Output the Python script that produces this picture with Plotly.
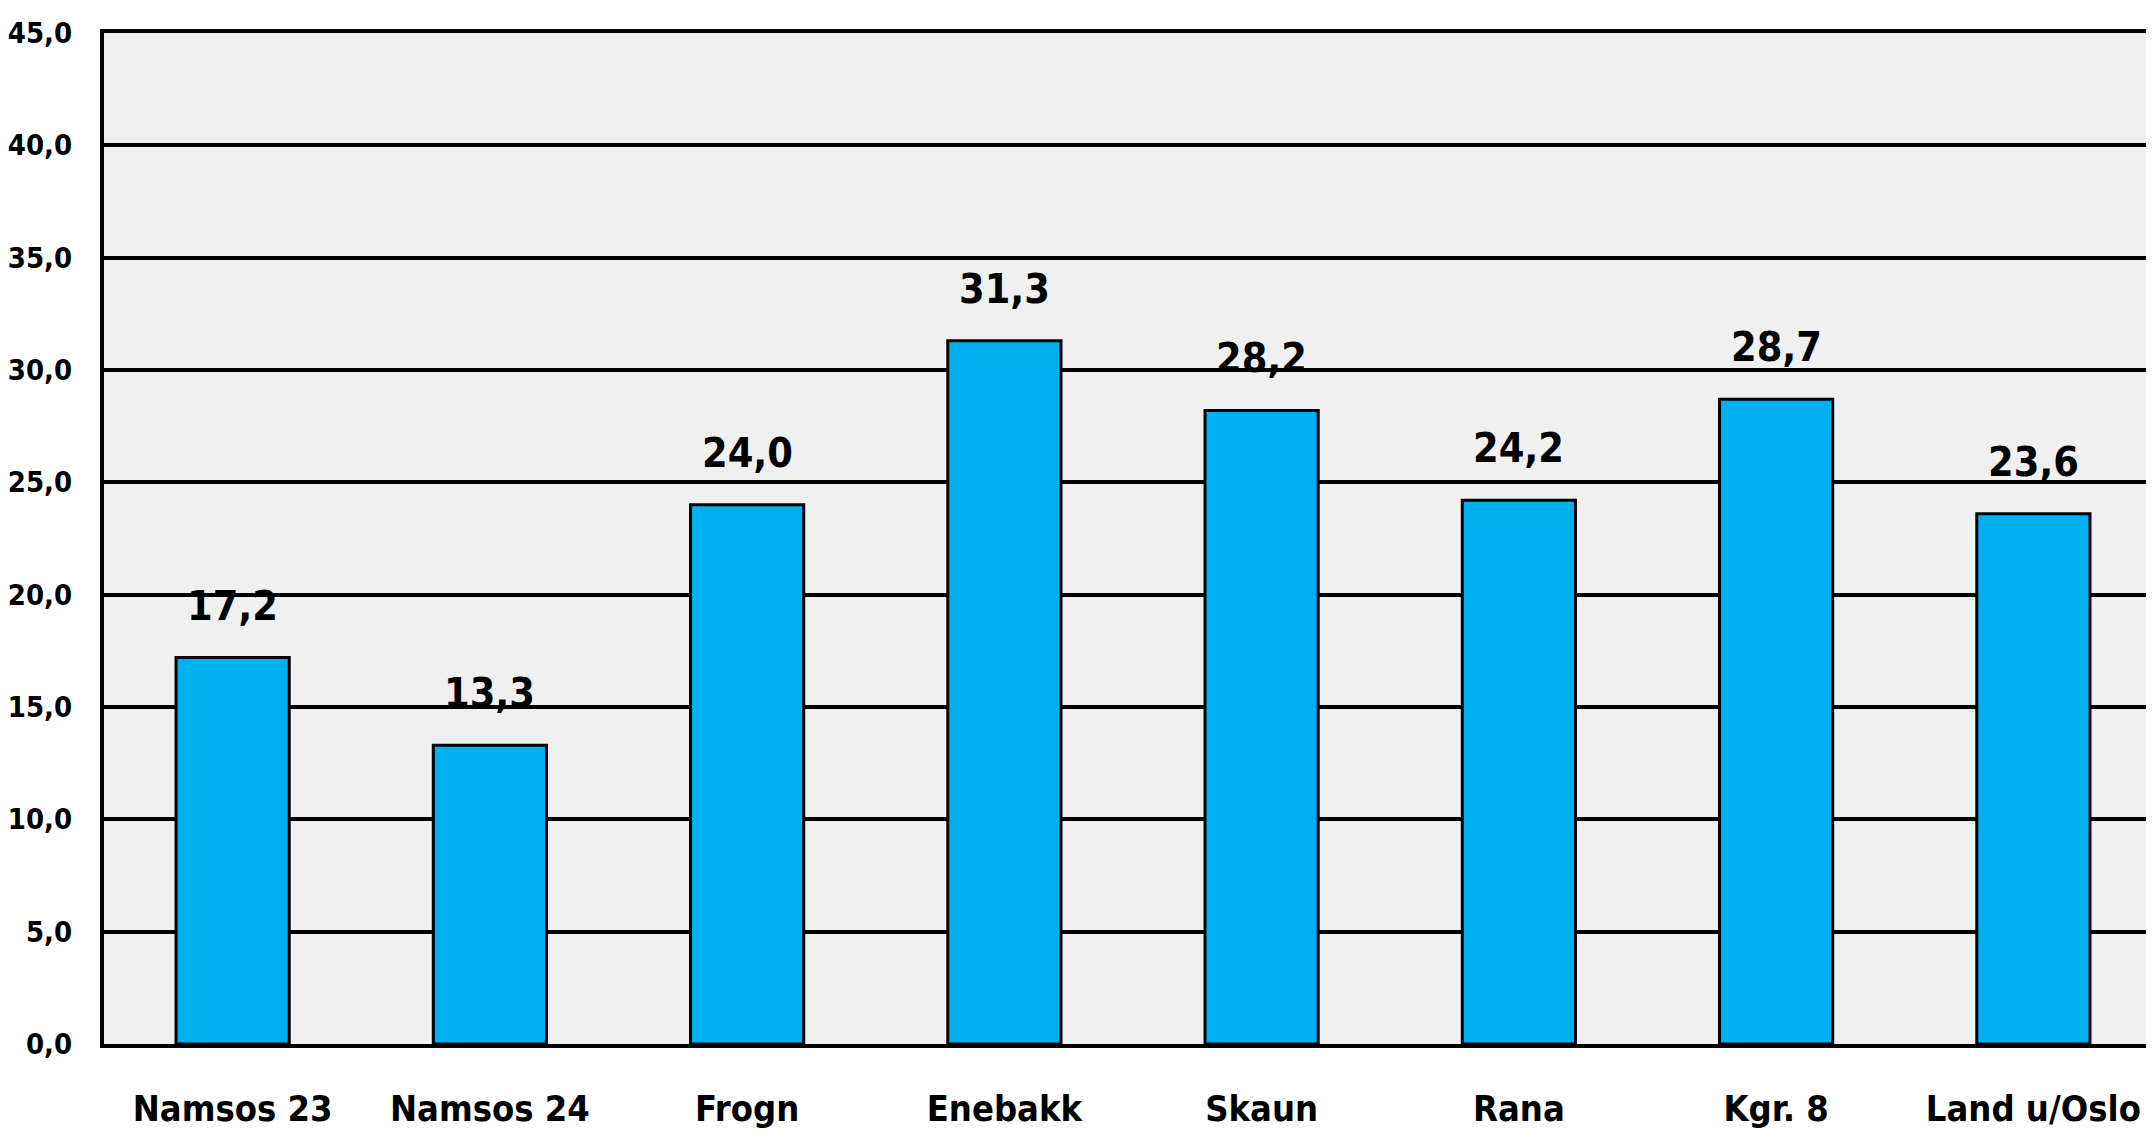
import plotly.graph_objects as go

# values
kommuner = ["Namsos 23", "Namsos 24", "Frogn", "Enebakk", "Skaun", "Rana", "Kgr. 8", "Land u/Oslo"]
verdier = [17.2, 13.3, 24.0, 31.3, 28.2, 24.2, 28.7, 23.6]
y_ticks = [0, 5, 10, 15, 20, 25, 30, 35, 40, 45]

FONT = "DejaVu Sans Condensed, DejaVu Sans, sans-serif"
BLUE = "#00B0F0"

fig = go.Figure(
    go.Bar(
        x=kommuner,
        y=verdier,
        width=0.44,
        marker=dict(color=BLUE, line=dict(color="black", width=3)),
        hoverinfo="skip",
    )
)

# value labels above each bar
for k, v in zip(kommuner, verdier):
    fig.add_annotation(
        x=k, y=v, text=f"{v:.1f}".replace(".", ","),
        showarrow=False, yanchor="bottom", yshift=26,
        font=dict(family=FONT, size=41, color="black", weight="bold"),
    )

# plot box is nudged a few px back to land where the reference has it
fig.update_layout(
    width=2154,
    height=1139,
    margin=dict(l=96, r=0, t=25, b=103),
    paper_bgcolor="white",
    plot_bgcolor="#F0F0F0",
    separators=",.",
    showlegend=False,
    font=dict(family=FONT, color="black"),
)
fig.update_xaxes(
    showline=True, linecolor="black", linewidth=4, mirror=True,
    showgrid=False, ticks="", automargin=False,
    tickfont=dict(family=FONT, size=36, weight="bold"),
    ticklabelstandoff=30,
)
fig.update_yaxes(
    range=[0, 45], tickvals=y_ticks, tickformat=".1f",
    showline=True, linecolor="black", linewidth=4,
    showgrid=True, gridcolor="black", gridwidth=4,
    zeroline=False, ticks="", automargin=False,
    tickfont=dict(family=FONT, size=29, weight="bold"),
    ticklabelstandoff=22,
)

fig.write_html("out.html")
